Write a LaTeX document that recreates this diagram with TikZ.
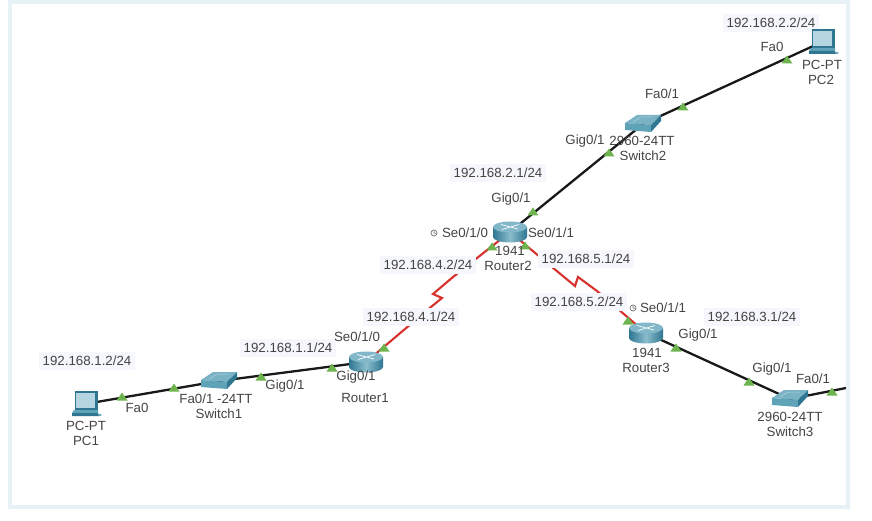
\documentclass[tikz,border=0pt]{standalone}
\usepackage{fontspec}
\setmainfont{Liberation Sans}
\definecolor{panelblue}{HTML}{E8F2F6}
\definecolor{labelfill}{HTML}{F6F7FC}
\definecolor{labeltext}{HTML}{444444}
\definecolor{portgreen}{HTML}{6DB44E}
\definecolor{seriallink}{HTML}{D8302C}
\definecolor{iconlight}{HTML}{B5D5E0}
\definecolor{iconmid}{HTML}{5FA3B8}
\definecolor{icondark}{HTML}{2F7690}
\tikzset{
  txt/.style={text=labeltext,font=\fontsize{13.3}{14}\selectfont,inner sep=0pt},
  iplabel/.style={txt,fill=labelfill,inner xsep=4pt,minimum height=18pt},
  device/.style={inner sep=0pt,minimum size=0pt},
  ethlink/.style={line width=2.3pt,black!90},
  serlink/.style={line width=2.1pt,seriallink},
  porticon/.pic={\fill[portgreen] (-5.5,3.5) -- (5.5,3.5) -- (0,-4.5) -- cycle;},
  clockicon/.pic={
    \draw[black!55,line width=.7pt] (0,0) circle (3);
    \draw[black!55,line width=.6pt] (0,-2) -- (0,0) -- (1.8,.6);
  },
  routericon/.pic={
    \path[left color=icondark,right color=icondark,middle color=iconmid!50!iconlight]
      (-17,-5) -- (-17,5) arc[start angle=180,end angle=0,x radius=17,y radius=5.5] -- (17,-5) -- cycle;
    \fill[iconmid!60!iconlight] (0,-5) ellipse (17 and 5.5);
    \draw[white,line width=.7pt] (-9,-7.5) -- (8,-3) (-8,-2.5) -- (9,-7.5);
  },
  switchicon/.pic={
    \fill[iconmid!70!iconlight] (-18,-1) -- (-6,-9) -- (18,-9) -- (8,1) -- cycle;
    \fill[iconmid] (-18,-1) -- (8,1) -- (8,8) -- (-18,6) -- cycle;
    \fill[icondark] (8,1) -- (18,-9) -- (18,-3) -- (8,8) -- cycle;
    \draw[iconlight,line width=.5pt] (-10,-2) -- (-2,-7) -- (10,-7);
  },
  pcicon/.pic={
    \fill[icondark] (-10,-13) -- (13,-13) -- (13,6) -- (-10,6) -- cycle;
    \fill[iconlight] (-9,-11) -- (10,-11) -- (10,4) -- (-9,4) -- cycle;
    \fill[iconmid] (-11,6) -- (13,6) -- (13,9) -- (-13,9) -- cycle;
    \fill[icondark] (-13,9) -- (13,9) -- (14,12) -- (-13,12) -- cycle;
    \fill[iconmid] (15,11) ellipse (1.8 and 1.2);
  },
}
\begin{document}
\begin{tikzpicture}[x=1pt,y=-1pt]
  \useasboundingbox (0,0) rectangle (872,521);
  \fill[panelblue] (8,0) rectangle (850,509);
  \fill[white] (12,4) rectangle (846,505);
  % devices
  \node[device] (pc1) at (85,404) {};
  \node[device] (switch1) at (219,381) {};
  \node[device] (router1) at (366,362) {};
  \node[device] (router2) at (510,232) {};
  \node[device] (router3) at (646,333) {};
  \node[device] (switch2) at (643,124) {};
  \node[device] (switch3) at (790,399) {};
  \node[device] (pc2) at (822,42) {};
  \coordinate (offpage) at (846,388);
  \coordinate (boltla) at (431,307);
  \coordinate (boltlb) at (442,298);
  \coordinate (boltlc) at (433,294);
  \coordinate (boltld) at (453,277);
  \coordinate (boltra) at (558,272);
  \coordinate (boltrb) at (575,286);
  \coordinate (boltrc) at (578,277);
  \coordinate (boltrd) at (597,291);
  % links
  \draw[ethlink] (pc1) -- (switch1);
  \draw[ethlink] (switch1) -- (router1);
  \draw[ethlink] (router2) -- (switch2);
  \draw[ethlink] (switch2) -- (pc2);
  \draw[ethlink] (router3) -- (switch3);
  \draw[ethlink] (switch3) -- (offpage);
  \draw[serlink] (router1) -- (boltla) -- (boltlb) -- (boltlc) -- (boltld) -- (router2);
  \draw[serlink] (router2) -- (boltra) -- (boltrb) -- (boltrc) -- (boltrd) -- (router3);
  % ip labels
  \node[iplabel] (ippc1) at (87,361) {192.168.1.2/24};
  \node[iplabel] (ipr1g) at (288,348) {192.168.1.1/24};
  \node[iplabel] (ipr1s) at (411,317) {192.168.4.1/24};
  \node[iplabel] (ipr2l) at (428,265) {192.168.4.2/24};
  \node[iplabel] (ipr2r) at (586,259) {192.168.5.1/24};
  \node[iplabel] (ipr3s) at (579,302) {192.168.5.2/24};
  \node[iplabel] (ipr2g) at (498,173) {192.168.2.1/24};
  \node[iplabel] (ipr3g) at (752,317) {192.168.3.1/24};
  \node[iplabel] (ippc2) at (771,23) {192.168.2.2/24};
  % icons
  \pic at (pc1) {pcicon};
  \pic at (pc2) {pcicon};
  \pic at (switch1) {switchicon};
  \pic at (switch2) {switchicon};
  \pic at (switch3) {switchicon};
  \pic at (router1) {routericon};
  \pic at (router2) {routericon};
  \pic at (router3) {routericon};
  % ports
  \pic at (122,397) {porticon};
  \pic at (174,388) {porticon};
  \pic at (261,377) {porticon};
  \pic at (332,368) {porticon};
  \pic at (384,348) {porticon};
  \pic at (492,247) {porticon};
  \pic at (525,246) {porticon};
  \pic at (533,212) {porticon};
  \pic at (609,153) {porticon};
  \pic at (683,107) {porticon};
  \pic at (787,60) {porticon};
  \pic at (628,321) {porticon};
  \pic at (676,348) {porticon};
  \pic at (749,382) {porticon};
  \pic at (832,392) {porticon};
  \pic at (434,233) {clockicon};
  \pic at (633,308) {clockicon};
  % device and port names
  \node[txt] (fapc1) at (137,408) {Fa0};
  \node[txt] (typepc1) at (86,426) {PC-PT};
  \node[txt] (namepc1) at (86,441) {PC1};
  \node[txt] (fasw1) at (216,399) {Fa0/1 -24TT};
  \node[txt] (namesw1) at (219,414) {Switch1};
  \node[txt] (gigsw1) at (285,386) {Gig0/1};
  \node[txt] (serr1) at (357,337) {Se0/1/0};
  \node[txt] (gigr1) at (356,377) {Gig0/1};
  \node[txt] (namer1) at (365,398) {Router1};
  \node[txt] (serr2l) at (465,233) {Se0/1/0};
  \node[txt] (serr2r) at (551,233) {Se0/1/1};
  \node[txt] (gigr2) at (511,199) {Gig0/1};
  \node[txt] (typer2) at (510,251) {1941};
  \node[txt] (namer2) at (508,266) {Router2};
  \node[txt] (serr3) at (663,308) {Se0/1/1};
  \node[txt] (gigr3) at (698,335) {Gig0/1};
  \node[txt] (typer3) at (647,353) {1941};
  \node[txt] (namer3) at (646,368) {Router3};
  \node[txt] (gigsw3) at (772,369) {Gig0/1};
  \node[txt] (fasw3) at (813,379) {Fa0/1};
  \node[txt] (typesw3) at (790,417) {2960-24TT};
  \node[txt] (namesw3) at (790,432) {Switch3};
  \node[txt] (gigsw2) at (585,141) {Gig0/1};
  \node[txt] (typesw2) at (642,141) {2960-24TT};
  \node[txt] (namesw2) at (643,156) {Switch2};
  \node[txt] (fasw2) at (662,94) {Fa0/1};
  \node[txt] (fapc2) at (772,47) {Fa0};
  \node[txt] (typepc2) at (822,65) {PC-PT};
  \node[txt] (namepc2) at (821,80) {PC2};
\end{tikzpicture}
\end{document}
